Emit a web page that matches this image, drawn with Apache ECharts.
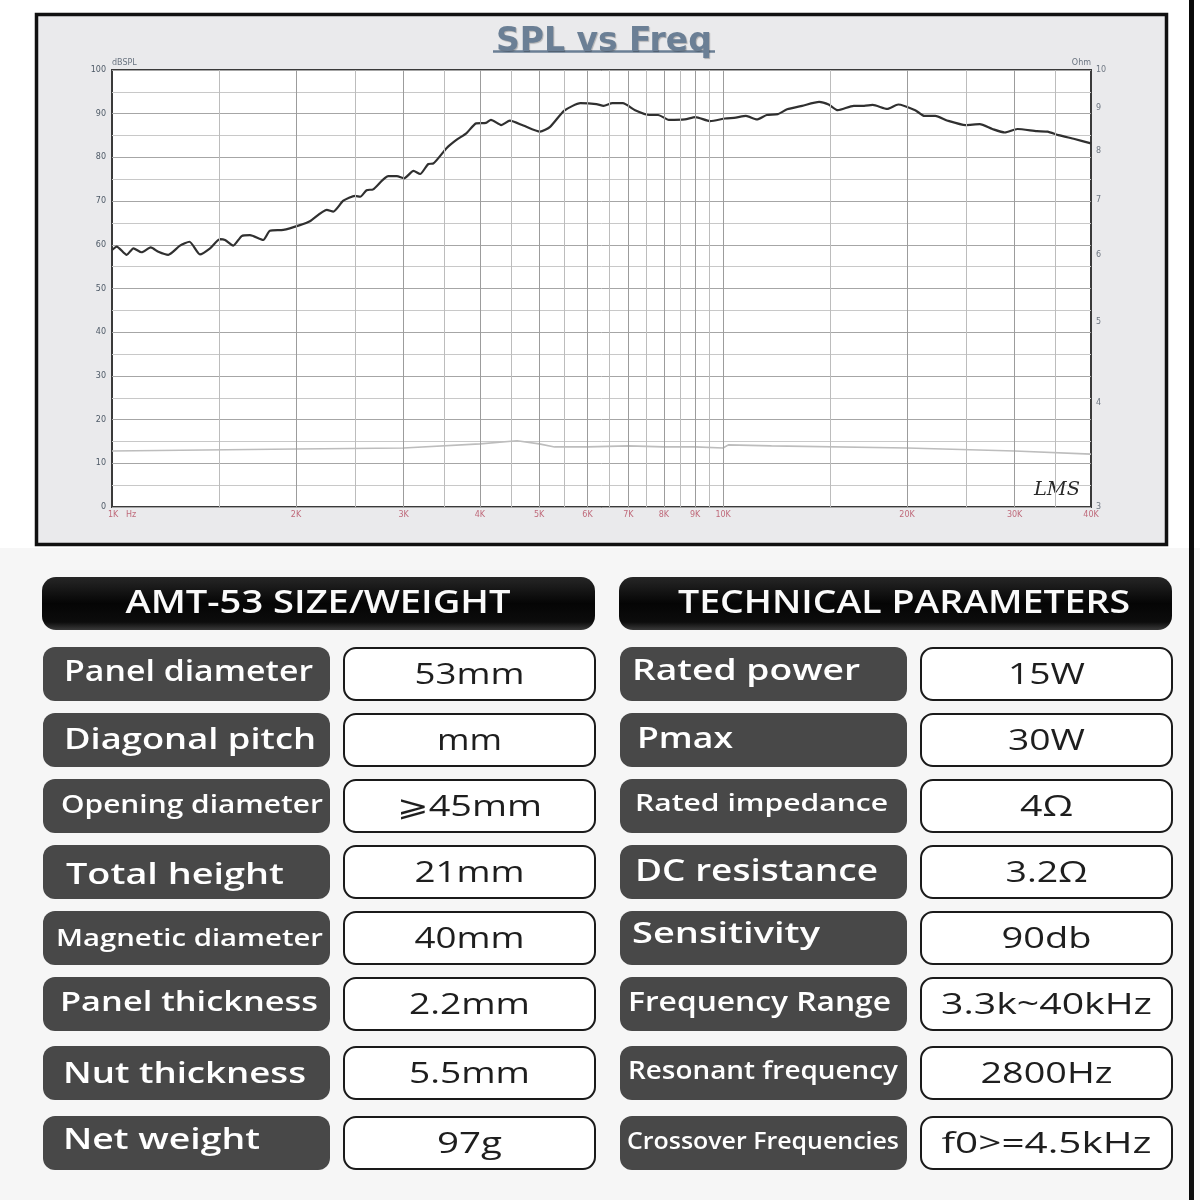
<!DOCTYPE html>
<html>
<head>
<meta charset="utf-8">
<script src="https://cdn.jsdelivr.net/npm/echarts@6/dist/echarts.min.js"></script>
<style>
html,body{margin:0;padding:0;background:#fff;}
#c{width:1200px;height:1200px;}
</style>
</head>
<body>
<div id="c"></div>
<script>
// ---------- data ----------
const splFreq = [1000,1018,1057,1084,1118,1157,1191,1236,1292,1339,1393,1447,1502,1531,1579,1630,1682,1768,1813,1907,2030,2108,2246,2302,2391,2499,2548,2610,2675,2832,2925,3005,3114,3193,3294,3355,3527,3661,3800,3943,4092,4170,4335,4478,4710,5017,5211,5497,5842,6204,6375,6589,6853,7179,7575,7831,8150,8659,9009,9528,10072,10490,10899,11356,11786,12290,12728,13471,14362,14885,15410,16365,17006,17575,18561,19343,20624,21350,22243,23316,24934,26307,27578,28915,30313,32620,33960,35380,37600,40000];
const splDb = [58.8,59.6,57.7,59.2,58.3,59.4,58.4,57.7,59.8,60.7,57.8,59.2,61.3,61.1,59.8,62.0,62.2,61.1,63.2,63.4,64.5,65.4,68.0,67.6,70.1,71.2,71.0,72.5,72.7,75.7,75.7,75.2,76.9,76.2,78.5,78.6,82.1,84.0,85.5,87.8,87.9,88.6,87.4,88.4,87.3,85.9,87.0,90.7,92.4,92.2,91.8,92.4,92.4,90.8,89.7,89.7,88.6,88.7,89.2,88.3,88.9,89.1,89.5,88.7,89.7,89.9,91.0,91.8,92.7,92.1,90.8,91.8,91.8,92.0,91.1,92.1,90.8,89.5,89.5,88.4,87.4,87.6,86.5,85.7,86.5,86.0,85.9,85.1,84.2,83.2];
const impFreq = [1000,2000,3000,4000,4600,5000,5300,6000,7000,8000,9000,10000,10200,12000,20000,30000,40000];
const impOhm = [3.50,3.52,3.53,3.57,3.60,3.57,3.54,3.54,3.55,3.54,3.54,3.53,3.56,3.55,3.53,3.50,3.47];
const xTickFreq = [1000,2000,3000,4000,5000,6000,7000,8000,9000,10000,20000,30000,40000];
const xTickLabels = ['1K   Hz','2K','3K','4K','5K','6K','7K','8K','9K','10K','20K','30K','40K'];
const xMinorFreq = [1500,2500,3500,4500,5500,6500,7500,8500,9500,15000,25000,35000];
const ohmTicks = [3,4,5,6,7,8,9,10];
const tableHeaders = ['AMT-53 SIZE/WEIGHT','TECHNICAL PARAMETERS'];
const sizeLabels = ['Panel diameter','Diagonal pitch','Opening diameter','Total height','Magnetic diameter','Panel thickness','Nut thickness','Net weight'];
const sizeValues = ['53mm','mm','\u2A7E45mm','21mm','40mm','2.2mm','5.5mm','97g'];
const techLabels = ['Rated power','Pmax','Rated impedance','DC resistance','Sensitivity','Frequency Range','Resonant frequency','Crossover Frequencies'];
const techValues = ['15W','30W','4\u03A9','3.2\u03A9','90db','3.3k~40kHz','2800Hz','f0>=4.5kHz'];

// ---------- layout / style (not data) ----------
const rowTop = [647,713,779,845,911,977,1046,1116];
const rowH = 54;
const sizeLabelX = [64,64,61,66,56,60,63,63];
const sizeLabelW = [249,252,262,218,267,258,243,197];
const sizeLabelFs = [28,29,25,29,23,27,29,29];
const sizeLabelDy = [-1,1,0,4,1,-1,2,-2];
const techLabelX = [632,637,635,635,632,628,628,627];
const techLabelW = [228,96,253,243,188,263,270,272];
const techLabelFs = [29,29,24,30,29,27,25,23];
const techLabelDy = [-2,0,-2,0,-3,-1,-1,-1];
const sizeValueW = [110,65,145,110,110,121,121,65];
const techValueW = [77,77,53,82,90,211,132,210];

const mctx = document.createElement('canvas').getContext('2d');
function fit(text, weight, size, family, target) {
  mctx.font = weight + ' ' + size + 'px ' + family;
  const w = mctx.measureText(text).width;
  return w > 0 ? target / w : 1;
}
const FAM = '"Open Sans", "DejaVu Sans", sans-serif';

const graphics = [];
// backgrounds
graphics.push({type:'rect', z:-10, silent:true, shape:{x:0,y:548,width:1200,height:652}, style:{fill:'#f6f6f6'}});
graphics.push({type:'rect', z:-9, silent:true, shape:{x:36.5,y:14.5,width:1130,height:530}, style:{fill:'#eaeaec', stroke:'#111', lineWidth:3.5}});
graphics.push({type:'rect', z:-9, silent:true, shape:{x:1189,y:0,width:5,height:1200}, style:{fill:'#0a0a0a'}});
// title underline
graphics.push({type:'line', z:5, silent:true, shape:{x1:493,y1:51.5,x2:715,y2:51.5}, style:{stroke:'#6b7f95', lineWidth:2.5}});
// LMS mark
graphics.push({type:'text', z:5, silent:true, x:1034, y:490,
  scaleX: fit('LMS','italic',19,'"DejaVu Serif"',46),
  style:{text:'LMS', fontSize:19, fontStyle:'italic', fontFamily:'"DejaVu Serif"', fill:'#2a2a2a', align:'left', verticalAlign:'middle'}});

// table headers
const headerGrad = () => new echarts.graphic.LinearGradient(0,0,0,1,[
  {offset:0,color:'#262626'},{offset:0.5,color:'#050505'},{offset:0.85,color:'#0c0c0c'},{offset:1,color:'#3a3a3a'}]);
const headerBoxX = [42, 619];
const headerTextCx = [318, 904];
const headerTextW = [385, 452];
tableHeaders.forEach((t, i) => {
  graphics.push({type:'rect', z:10, silent:true, shape:{x:headerBoxX[i], y:577, width:553, height:53, r:14}, style:{fill:headerGrad()}});
  graphics.push({type:'text', z:11, silent:true, x:headerTextCx[i], y:604,
    scaleX: fit(t, '600', 32, FAM, headerTextW[i]),
    style:{text:t, fontSize:32, fontWeight:600, fontFamily:FAM, fill:'#fafafa', align:'center', verticalAlign:'middle'}});
});

function addColumn(labels, values, boxX, valBoxX, lx, lw, lfs, ldy, vw) {
  labels.forEach((lab, i) => {
    const top = rowTop[i], cy = top + rowH / 2;
    graphics.push({type:'rect', z:10, silent:true, shape:{x:boxX, y:top, width:287, height:rowH, r:12}, style:{fill:'#484848'}});
    graphics.push({type:'rect', z:10, silent:true, shape:{x:valBoxX, y:top+1, width:251, height:rowH-2, r:12}, style:{fill:'#ffffff', stroke:'#1a1a1a', lineWidth:2}});
    graphics.push({type:'text', z:11, silent:true, x:lx[i], y:cy + ldy[i],
      scaleX: fit(lab, '600', lfs[i], FAM, lw[i]),
      style:{text:lab, fontSize:lfs[i], fontWeight:600, fontFamily:FAM, fill:'#ffffff', align:'left', verticalAlign:'middle'}});
    graphics.push({type:'text', z:11, silent:true, x:valBoxX + 125.5, y:cy + 2,
      scaleX: fit(values[i], 'normal', 29, FAM, vw[i]),
      style:{text:values[i], fontSize:29, fontFamily:FAM, fill:'#1e1e1e', align:'center', verticalAlign:'middle'}});
  });
}
addColumn(sizeLabels, sizeValues, 43, 344, sizeLabelX, sizeLabelW, sizeLabelFs, sizeLabelDy, sizeValueW);
addColumn(techLabels, techValues, 620, 921, techLabelX, techLabelW, techLabelFs, techLabelDy, techValueW);

// ---------- chart ----------
const majorGrid = xTickFreq.filter(f => f > 1000 && f < 40000);
const markData = majorGrid.map(f => ({xAxis:f, lineStyle:{color:'#9c9c9c', width:1, type:'solid'}}))
  .concat(xMinorFreq.map(f => ({xAxis:f, lineStyle:{color:'#bcbcbc', width:1, type:'solid'}})));

const chart = echarts.init(document.getElementById('c'), null, {renderer:'canvas'});
chart.setOption({
  animation:false,
  backgroundColor:'#ffffff',
  title:{text:'SPL vs Freq', left:491, top:21,
    textStyle:{fontFamily:'"DejaVu Sans"', fontWeight:'bold', fontSize:33, color:'#6b7f95',
      textShadowColor:'rgba(0,0,0,0.25)', textShadowOffsetX:1, textShadowOffsetY:1, textShadowBlur:1}},
  grid:{left:112, top:70, width:979, height:437, show:true, backgroundColor:'#ffffff', borderColor:'#3a3a3a', borderWidth:2},
  xAxis:{type:'log', logBase:10, min:1000, max:40000,
    axisLine:{show:false}, axisTick:{show:false}, axisLabel:{show:false}, splitLine:{show:false}, minorSplitLine:{show:false}},
  yAxis:[
    {type:'value', min:0, max:100, interval:10,
      name:'dBSPL', nameLocation:'end', nameGap:3,
      nameTextStyle:{fontSize:8, color:'#6a7480', align:'left', fontFamily:'"DejaVu Sans"'},
      axisLine:{show:false}, axisTick:{show:false},
      axisLabel:{fontSize:8, color:'#4d5966', margin:6, fontFamily:'"DejaVu Sans"'},
      splitLine:{lineStyle:{color:'#a6a6a6', width:1}},
      minorTick:{show:false, splitNumber:2},
      minorSplitLine:{show:true, lineStyle:{color:'#c8c8c8', width:1}}},
    {type:'log', logBase:10, min:3, max:10, position:'right',
      name:'Ohm', nameLocation:'end', nameGap:3,
      nameTextStyle:{fontSize:8, color:'#6a7480', align:'right', fontFamily:'"DejaVu Sans"'},
      axisLine:{show:false}, axisTick:{show:false}, axisLabel:{show:false}, splitLine:{show:false}}
  ],
  graphic:{elements:graphics},
  series:[
    {type:'line', name:'grid', data:[], z:1, silent:true,
      markLine:{silent:true, symbol:['none','none'], animation:false, label:{show:false}, data:markData}},
    {type:'line', name:'Impedance', yAxisIndex:1, z:2, showSymbol:false, silent:true,
      data: impFreq.map((f,i) => [f, impOhm[i]]),
      lineStyle:{color:'#bdbdbd', width:1.6}},
    {type:'line', name:'SPL', z:3, showSymbol:false, silent:true, smooth:0.2,
      data: splFreq.map((f,i) => [f, splDb[i]]),
      lineStyle:{color:'#303030', width:2.2}},
    {type:'scatter', name:'xlabels', z:4, silent:true, symbolSize:0,
      data: xTickFreq.map((f,i) => {
        const item = {value:[f, 0], label:{formatter: xTickLabels[i]}};
        if (i === 0) item.label.align = 'left', item.label.offset = [-4, 0];
        return item;
      }),
      label:{show:true, position:'bottom', distance:4, fontSize:8, color:'#b4485c', fontFamily:'"DejaVu Sans"'}},
    {type:'scatter', name:'ohmlabels', yAxisIndex:1, z:4, silent:true, symbolSize:0,
      data: ohmTicks.map(v => [40000, v]),
      label:{show:true, position:'right', distance:5, fontSize:8, color:'#4d5966', fontFamily:'"DejaVu Sans"',
        formatter: p => String(p.value[1])}}
  ]
});
</script>
</body>
</html>
